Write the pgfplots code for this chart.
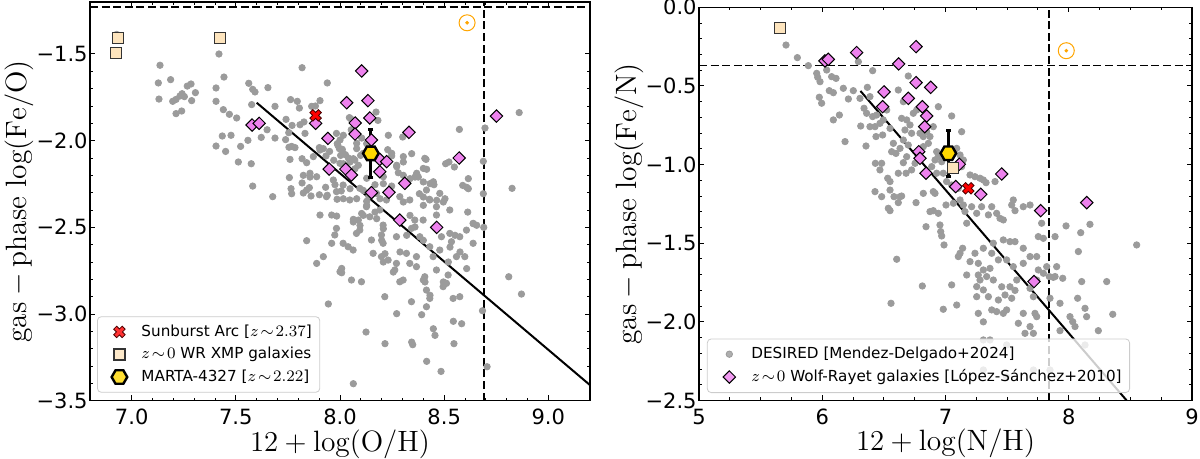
\documentclass[border=0pt]{standalone}
\usepackage{pgfplots}
\pgfplotsset{compat=1.18}
\usepackage{fontspec}
\newfontfamily\dejavu{DejaVu Sans}
\definecolor{ptgray}{RGB}{155,155,155}
\definecolor{wrsq}{RGB}{253,228,189}
\definecolor{violetD}{RGB}{238,130,238}
\definecolor{goldH}{RGB}{255,215,0}
\definecolor{sunor}{RGB}{255,165,0}
\pgfdeclareplotmark{hexH}{%
  \pgfpathmoveto{\pgfqpointpolar{0}{\pgfplotmarksize}}%
  \pgfpathlineto{\pgfqpointpolar{60}{\pgfplotmarksize}}%
  \pgfpathlineto{\pgfqpointpolar{120}{\pgfplotmarksize}}%
  \pgfpathlineto{\pgfqpointpolar{180}{\pgfplotmarksize}}%
  \pgfpathlineto{\pgfqpointpolar{240}{\pgfplotmarksize}}%
  \pgfpathlineto{\pgfqpointpolar{300}{\pgfplotmarksize}}%
  \pgfpathclose\pgfusepathqfillstroke}
\pgfdeclareplotmark{Dmd}{%
  \pgfpathmoveto{\pgfqpoint{0pt}{\pgfplotmarksize}}%
  \pgfpathlineto{\pgfqpoint{\pgfplotmarksize}{0pt}}%
  \pgfpathlineto{\pgfqpoint{0pt}{-\pgfplotmarksize}}%
  \pgfpathlineto{\pgfqpoint{-\pgfplotmarksize}{0pt}}%
  \pgfpathclose\pgfusepathqfillstroke}
\pgfdeclareplotmark{Xfill}{%
  \pgfpathmoveto{\pgfpoint{-0.46*\pgfplotmarksize}{0.955*\pgfplotmarksize}}%
  \pgfpathlineto{\pgfpoint{0pt}{0.495*\pgfplotmarksize}}%
  \pgfpathlineto{\pgfpoint{0.46*\pgfplotmarksize}{0.955*\pgfplotmarksize}}%
  \pgfpathlineto{\pgfpoint{0.955*\pgfplotmarksize}{0.46*\pgfplotmarksize}}%
  \pgfpathlineto{\pgfpoint{0.495*\pgfplotmarksize}{0pt}}%
  \pgfpathlineto{\pgfpoint{0.955*\pgfplotmarksize}{-0.46*\pgfplotmarksize}}%
  \pgfpathlineto{\pgfpoint{0.46*\pgfplotmarksize}{-0.955*\pgfplotmarksize}}%
  \pgfpathlineto{\pgfpoint{0pt}{-0.495*\pgfplotmarksize}}%
  \pgfpathlineto{\pgfpoint{-0.46*\pgfplotmarksize}{-0.955*\pgfplotmarksize}}%
  \pgfpathlineto{\pgfpoint{-0.955*\pgfplotmarksize}{-0.46*\pgfplotmarksize}}%
  \pgfpathlineto{\pgfpoint{-0.495*\pgfplotmarksize}{0pt}}%
  \pgfpathlineto{\pgfpoint{-0.955*\pgfplotmarksize}{0.46*\pgfplotmarksize}}%
  \pgfpathclose\pgfusepathqfillstroke}

\pgfplotstableread{
x y
6.928 -1.387
7.136 -1.565
7.128 -1.667
7.187 -1.648
7.131 -1.760
7.197 -1.773
7.213 -1.762
7.242 -1.729
7.253 -1.746
7.267 -1.685
7.285 -1.673
7.306 -1.723
7.288 -1.769
7.213 -1.844
7.240 -1.829
7.232 -1.742
7.419 -1.500
7.443 -1.633
7.405 -1.696
7.405 -1.773
7.440 -1.821
7.469 -1.848
7.504 -1.869
7.562 -1.669
7.581 -1.704
7.592 -1.719
7.576 -1.792
7.654 -1.694
7.688 -1.802
7.650 -1.937
7.622 -1.981
7.435 -1.973
7.477 -1.969
7.405 -2.031
7.451 -2.062
7.523 -2.033
7.558 -1.998
7.512 -2.123
7.574 -2.133
7.581 -2.262
7.677 -2.323
7.768 -2.306
7.818 -1.579
7.939 -1.667
7.763 -1.763
7.795 -1.773
7.805 -1.812
7.864 -1.802
7.904 -1.769
7.882 -1.800
7.741 -1.877
7.770 -1.912
7.808 -1.908
7.827 -1.892
7.754 -1.954
7.688 -1.985
7.739 -1.994
7.768 -2.033
7.755 -2.038
7.784 -2.040
7.760 -2.108
7.757 -2.213
7.818 -2.104
7.840 -2.127
7.824 -2.200
7.818 -2.244
7.856 -2.210
7.853 -2.271
7.824 -2.302
7.861 -2.319
7.901 -2.312
7.931 -2.269
7.939 -2.315
7.976 -2.254
7.986 -2.338
8.006 -2.290
8.045 -1.867
8.051 -1.873
8.054 -1.937
8.016 -1.969
7.987 -2.017
7.901 -2.040
7.920 -2.046
7.933 -2.088
7.950 -2.062
7.970 -2.113
7.990 -2.027
7.997 -2.046
8.011 -2.050
8.026 -2.081
8.003 -2.085
8.016 -2.133
8.040 -2.100
8.048 -2.123
8.064 -2.104
8.072 -2.162
8.088 -2.142
8.099 -2.085
8.080 -2.046
8.104 -1.985
8.128 -2.017
8.173 -1.835
8.182 -1.883
8.232 -1.969
8.229 -2.052
8.248 -2.088
8.304 -2.123
8.301 -1.979
8.344 -2.075
8.272 -2.142
8.280 -2.185
8.304 -2.200
8.336 -2.219
8.360 -2.210
8.376 -2.210
8.413 -2.108
8.416 -2.165
8.400 -2.238
8.432 -2.248
8.451 -2.254
8.507 -2.133
8.523 -2.123
8.549 -2.152
8.573 -1.935
8.589 -2.258
8.616 -2.219
8.608 -2.269
8.696 -1.927
8.688 -2.119
8.688 -2.306
8.112 -2.287
8.138 -2.321
8.016 -2.335
8.168 -2.254
8.208 -2.248
8.248 -2.262
8.381 -2.306
8.400 -2.325
8.429 -2.338
8.464 -2.344
8.128 -2.350
8.192 -2.335
8.320 -2.248
8.504 -2.335
7.832 -1.958
7.872 -2.092
7.904 -2.054
7.856 -2.188
7.888 -2.208
7.840 -2.285
7.983 -1.958
8.016 -2.073
8.000 -1.996
8.080 -2.015
8.112 -2.073
8.000 -2.131
8.071 -2.112
7.968 -2.227
8.015 -2.256
7.983 -2.294
7.935 -2.323
8.047 -2.342
8.095 -2.275
8.128 -2.217
8.208 -2.208
8.248 -2.073
8.272 -2.150
8.304 -2.092
8.368 -2.188
8.400 -2.160
8.407 -2.102
8.448 -2.237
8.415 -2.285
8.335 -2.342
8.287 -2.323
8.479 -2.304
8.431 -2.342
8.527 -2.400
8.463 -2.381
8.191 -2.400
8.127 -2.381
8.223 -2.342
8.175 -2.304
7.904 -2.429
7.960 -2.429
7.984 -2.435
8.064 -2.454
8.088 -2.458
8.104 -2.420
8.143 -2.439
8.207 -2.487
8.271 -2.554
8.199 -2.544
8.207 -2.592
8.199 -2.669
8.231 -2.689
8.271 -2.708
8.159 -2.650
8.151 -2.573
8.095 -2.516
8.079 -2.535
7.983 -2.506
7.975 -2.544
8.015 -2.592
8.039 -2.612
8.063 -2.631
7.960 -2.592
7.840 -2.577
7.920 -2.669
7.888 -2.708
8.008 -2.737
8.000 -2.756
8.055 -2.804
8.103 -2.814
8.215 -2.900
8.287 -2.814
8.303 -2.804
8.263 -2.746
8.319 -2.650
8.367 -2.669
8.335 -2.708
8.367 -2.727
8.407 -2.785
8.400 -2.804
8.415 -2.862
8.431 -2.910
8.495 -2.842
8.519 -2.775
8.463 -2.746
8.447 -2.669
8.479 -2.631
8.431 -2.612
8.383 -2.554
8.343 -2.506
8.359 -2.458
8.399 -2.458
8.463 -2.429
8.487 -2.554
8.527 -2.535
8.535 -2.583
8.575 -2.554
8.607 -2.516
8.639 -2.477
8.599 -2.669
8.559 -2.669
8.639 -2.592
8.543 -2.910
8.575 -2.900
7.944 -2.942
8.343 -2.929
8.415 -2.958
8.511 -2.823
8.008 -2.762
8.272 -2.998
8.392 -3.004
8.448 -3.085
8.456 -3.123
8.544 -3.042
8.584 -3.056
8.547 -3.171
8.344 -3.162
8.349 -3.177
8.216 -3.171
8.125 -3.104
8.416 -3.273
8.485 -3.331
8.064 -3.402
8.613 -2.412
8.656 -2.488
8.640 -2.479
8.616 -2.277
7.765 -2.277
8.048 -2.277
8.080 -2.335
8.128 -2.373
8.168 -2.412
8.112 -2.431
8.064 -2.469
8.096 -2.489
8.176 -2.450
8.208 -2.508
8.200 -2.575
8.216 -2.652
8.208 -2.700
8.256 -2.758
8.288 -2.642
8.320 -2.546
8.336 -2.431
8.360 -2.498
8.400 -2.575
8.408 -2.815
8.432 -2.892
8.496 -2.815
8.520 -2.700
8.528 -2.614
8.552 -2.546
8.576 -2.642
8.608 -2.738
8.496 -2.354
8.400 -2.373
8.304 -2.354
8.860 -1.838
8.826 -2.275
8.690 -2.500
8.810 -2.785
8.871 -2.885
8.684 -2.981
8.706 -3.304
}\leftgray

\pgfplotstableread{
x y
7.578 -1.910
7.612 -1.900
7.883 -1.900
8.104 -1.598
8.032 -1.781
8.134 -1.769
8.143 -1.869
8.073 -1.898
8.072 -1.962
7.942 -1.987
8.331 -1.952
8.151 -1.996
8.191 -2.108
8.224 -2.121
8.572 -2.100
8.751 -1.858
7.948 -2.164
8.028 -2.164
8.055 -2.198
8.191 -2.179
8.311 -2.246
8.151 -2.300
8.235 -2.298
8.287 -2.458
8.464 -2.500
}\leftdiam

\pgfplotstableread{
x y
5.706 -0.240
5.798 -0.320
5.887 -0.371
5.955 -0.420
5.963 -0.445
5.982 -0.473
6.036 -0.399
6.076 -0.441
6.112 -0.452
6.057 -0.530
6.090 -0.543
6.171 -0.515
5.976 -0.572
5.995 -0.610
6.090 -0.716
6.139 -0.685
6.185 -0.854
6.212 -0.583
6.252 -0.530
6.293 -0.346
6.306 -0.579
6.366 -0.509
6.409 -0.403
6.387 -0.568
6.360 -0.674
6.339 -0.642
6.312 -0.755
6.355 -0.882
6.409 -0.695
6.441 -0.685
6.428 -0.759
6.387 -0.759
6.468 -0.738
6.436 -0.822
6.490 -0.812
6.431 -0.992
6.482 -0.992
6.468 -1.034
6.531 -1.087
6.550 -1.108
6.495 -0.716
6.523 -0.653
6.550 -0.770
6.577 -0.865
6.563 -0.918
6.598 -0.929
6.617 -1.055
6.617 -0.526
6.658 -0.600
6.698 -0.437
6.644 -0.706
6.685 -0.716
6.712 -0.748
6.739 -0.674
6.766 -0.653
6.671 -0.780
6.725 -0.801
6.658 -0.844
6.698 -0.876
6.631 -0.897
6.685 -0.950
6.658 -0.988
6.680 -1.055
6.725 -1.034
6.753 -0.992
6.793 -0.801
6.820 -0.822
6.847 -0.791
6.874 -0.822
6.861 -0.865
6.820 -0.886
6.901 -0.759
6.942 -0.632
6.928 -0.918
6.915 -0.971
6.942 -0.950
6.969 -0.982
6.888 -1.013
6.928 -1.055
6.982 -1.055
7.050 -0.691
7.131 -0.791
7.118 -0.939
7.091 -0.897
7.145 -0.971
7.131 -1.013
7.199 -1.066
7.239 -1.077
7.280 -1.087
7.307 -1.098
7.329 -1.115
7.402 -1.108
7.009 -1.108
7.050 -1.130
7.104 -1.151
6.820 -1.183
6.901 -1.172
6.550 -1.162
6.631 -1.204
7.550 -1.225
6.428 -1.172
6.482 -1.204
6.582 -1.204
6.644 -1.200
6.617 -1.242
6.536 -1.278
6.550 -1.293
6.761 -1.242
6.915 -1.183
6.874 -1.299
6.901 -1.293
6.942 -1.310
6.842 -1.395
6.955 -1.384
6.961 -1.426
6.969 -1.454
6.988 -1.511
7.004 -1.257
7.064 -1.246
7.118 -1.225
7.145 -1.257
7.158 -1.299
7.172 -1.373
7.212 -1.268
7.253 -1.310
7.293 -1.268
7.348 -1.320
7.375 -1.268
7.415 -1.310
7.442 -1.342
7.469 -1.352
7.537 -1.257
7.564 -1.293
7.631 -1.268
7.686 -1.257
7.780 -1.373
7.794 -1.469
7.753 -1.458
7.740 -1.585
7.821 -1.649
7.842 -1.712
7.875 -1.717
7.794 -1.691
7.753 -1.670
7.740 -1.734
7.686 -1.787
7.713 -1.840
7.726 -1.946
7.740 -1.967
7.686 -2.030
7.645 -2.073
7.713 -2.073
7.631 -1.946
7.578 -1.734
7.564 -1.800
7.523 -1.777
7.456 -1.777
7.388 -1.734
7.361 -1.660
7.429 -1.606
7.496 -1.606
7.550 -1.649
7.631 -1.628
7.686 -1.585
7.631 -1.532
7.564 -1.490
7.523 -1.490
7.469 -1.479
7.388 -1.500
7.375 -1.564
7.307 -1.532
7.266 -1.628
7.307 -1.670
7.334 -1.712
7.280 -1.734
7.253 -1.840
7.266 -1.946
7.307 -2.000
7.375 -1.924
7.415 -1.935
7.469 -1.946
7.496 -1.924
7.429 -1.861
7.483 -1.829
7.537 -1.850
7.591 -2.009
7.889 -1.458
7.978 -1.390
8.097 -1.433
8.172 -1.380
8.078 -1.553
8.105 -1.744
8.132 -1.914
8.145 -1.967
8.308 -1.744
8.357 -1.952
8.551 -1.511
7.929 -1.882
8.010 -1.967
8.032 -1.999
8.051 -2.030
7.929 -2.056
8.240 -2.056
8.072 -1.850
8.132 -2.147
7.889 -1.712
7.951 -1.723
7.902 -1.649
7.848 -1.850
7.361 -2.115
7.496 -2.147
6.604 -1.602
6.558 -1.882
6.812 -1.772
6.982 -1.920
7.091 -1.893
7.050 -1.765
7.104 -1.585
7.118 -1.564
7.139 -1.532
7.199 -1.617
7.239 -1.564
7.172 -1.702
7.266 -1.702
7.253 -1.776
7.307 -1.797
7.348 -1.840
7.307 -2.115
7.307 -2.306
7.713 -2.306
7.496 -2.350
7.848 -2.306
}\rightgray

\pgfplotstableread{
x y
6.022 -0.341
6.049 -0.331
6.279 -0.288
6.761 -0.250
6.620 -0.360
6.761 -0.479
6.880 -0.509
6.501 -0.538
6.698 -0.579
6.490 -0.632
6.812 -0.632
6.847 -0.691
6.831 -0.759
6.783 -0.918
6.793 -0.960
7.112 -0.998
6.842 -1.055
7.456 -1.060
7.083 -1.140
7.286 -1.189
7.772 -1.293
8.146 -1.242
7.718 -1.744
}\rightdiam

\pgfplotsset{myax/.style={
  scale only axis,
  axis line style={line width=0.6pt},
  tick style={black, line width=0.5pt},
  major tick length=2.6pt, minor tick length=1.5pt,
  tick align=inside,
  ticklabel style={font=\dejavu\fontsize{10.5}{12}\selectfont},
  yticklabel style={inner xsep=1pt, inner ysep=0pt},
  xticklabel style={inner ysep=0pt, inner xsep=0pt, yshift=-4pt},
  legend cell align=left,
  legend image code/.code={%
    \path (0cm,0cm) (0.62cm,0cm);
    \draw[#1, only marks] plot coordinates {(0.31cm,0cm)};},
  legend style={font=\dejavu\fontsize{7.6}{9}\selectfont, draw=black!20,
    rounded corners=2pt, fill=white, fill opacity=0.8, text opacity=1,
    draw opacity=1, row sep=0pt, inner sep=2pt},
}}

\begin{document}
\begin{tikzpicture}
\path[use as bounding box] (0,0) rectangle (600pt,229.5pt);

% ---------------- left panel ----------------
\begin{axis}[myax,
  at={(45pt,29.15pt)}, anchor=south west,
  width=250pt, height=199.35pt,
  xmin=6.8, xmax=9.2, ymin=-3.5, ymax=-1.2,
  xtick={7,7.5,8,8.5,9}, xticklabels={7.0,7.5,8.0,8.5,9.0},
  ytick={-1.5,-2,-2.5,-3,-3.5}, yticklabels={−1.5,−2.0,−2.5,−3.0,−3.5},
  minor x tick num=4, minor y tick num=4,
  xlabel={$12 + \log(\mathrm{O/H})$},
  ylabel={$\mathrm{gas-phase}\ \mathrm{log(Fe/O)}$},
  every axis x label/.style={at={(axis description cs:0.5,-0.11)},anchor=center,inner sep=1pt,font=\fontsize{14.7}{17}\selectfont},
  every axis y label/.style={at={(axis description cs:-0.142,0.5)},rotate=90,anchor=center,inner sep=0pt,font=\fontsize{14.7}{17}\selectfont},
  legend style={at={(0.014,0.02)}, anchor=south west},
]
\addplot[only marks, mark=*, mark size=1.6pt, color=ptgray, forget plot] table[x=x,y=y] {\leftgray};
\addplot[black, line width=0.8pt, dash pattern=on 4pt off 1.8pt, forget plot] coordinates {(6.8,-1.229) (9.2,-1.229)};
\addplot[black, line width=0.8pt, dash pattern=on 4pt off 1.8pt, forget plot] coordinates {(8.69,-3.5) (8.69,-1.2)};
\addplot[black, line width=1pt, forget plot] coordinates {(7.60,-1.781) (9.2,-3.410)};
\addplot[only marks, mark=Dmd, mark size=3.1pt, mark options={fill=violetD, draw=black, line width=0.5pt}, forget plot] table[x=x,y=y] {\leftdiam};
\addplot[only marks, mark=o, mark size=4pt, mark options={draw=sunor, line width=0.5pt}, forget plot] coordinates {(8.61,-1.32)};
\addplot[only marks, mark=*, mark size=0.7pt, color=sunor, forget plot] coordinates {(8.61,-1.32)};
\addplot[black, line width=1.5pt, mark=-, mark size=1.3pt, forget plot] coordinates {(8.148,-1.933) (8.148,-2.213)};
\addplot[only marks, mark=Xfill, mark size=3pt, mark options={fill=red, draw=black!70!red, line width=0.4pt}] coordinates {(7.883,-1.854)};
\addlegendentry{Sunburst Arc [$z\!\sim\!2.37$]}
\addplot[only marks, mark=square*, mark size=2.75pt, mark options={fill=wrsq, draw=black!80, line width=0.6pt}] coordinates {(6.934,-1.406) (6.923,-1.496) (7.424,-1.406)};
\addlegendentry{$z\!\sim\!0$ WR XMP galaxies}
\addplot[only marks, mark=hexH, mark size=3.9pt, mark options={fill=goldH, draw=black, line width=1.2pt}] coordinates {(8.148,-2.073)};
\addlegendentry{MARTA-4327 [$z\!\sim\!2.22$]}
\end{axis}

% ---------------- right panel ----------------
\begin{axis}[myax,
  at={(349.5pt,29.25pt)}, anchor=south west,
  width=246.5pt, height=196.6pt,
  xmin=5, xmax=9, ymin=-2.5, ymax=0,
  xtick={5,6,7,8,9}, xticklabels={5,6,7,8,9},
  ytick={0,-0.5,-1,-1.5,-2,-2.5}, yticklabels={0.0,−0.5,−1.0,−1.5,−2.0,−2.5},
  minor x tick num=3, minor y tick num=4,
  xlabel={$12 + \log(\mathrm{N/H})$},
  ylabel={$\mathrm{gas-phase}\ \mathrm{log(Fe/N)}$},
  every axis x label/.style={at={(axis description cs:0.5,-0.11)},anchor=center,inner sep=1pt,font=\fontsize{14.7}{17}\selectfont},
  every axis y label/.style={at={(axis description cs:-0.142,0.5)},rotate=90,anchor=center,inner sep=0pt,font=\fontsize{14.7}{17}\selectfont},
  legend style={at={(0.016,0.019)}, anchor=south west},
]
\addplot[only marks, mark=*, mark size=1.6pt, color=ptgray] table[x=x,y=y] {\rightgray};
\addlegendentry{DESIRED [Mendez-Delgado+2024]}
\addplot[black, line width=0.8pt, dash pattern=on 4pt off 1.8pt, forget plot] coordinates {(5,-0.371) (9,-0.371)};
\addplot[black, line width=0.8pt, dash pattern=on 4pt off 1.8pt, forget plot] coordinates {(7.84,-2.5) (7.84,0)};
\addplot[black, line width=1pt, forget plot] coordinates {(6.31,-0.532) (8.47,-2.5)};
\addplot[only marks, mark=Dmd, mark size=3.1pt, mark options={fill=violetD, draw=black, line width=0.5pt}] table[x=x,y=y] {\rightdiam};
\addlegendentry{$z\!\sim\!0$ Wolf-Rayet galaxies [López-Sánchez+2010]}
\addplot[only marks, mark=o, mark size=4pt, mark options={draw=sunor, line width=0.5pt}, forget plot] coordinates {(7.98,-0.276)};
\addplot[only marks, mark=*, mark size=0.7pt, color=sunor, forget plot] coordinates {(7.98,-0.276)};
\addplot[only marks, mark=square*, mark size=2.75pt, mark options={fill=wrsq, draw=black!80, line width=0.6pt}, forget plot] coordinates {(5.657,-0.134) (7.058,-1.024)};
\addplot[black, line width=1.5pt, mark=-, mark size=1.3pt, forget plot] coordinates {(7.023,-0.784) (7.023,-1.077)};
\addplot[only marks, mark=hexH, mark size=3.9pt, mark options={fill=goldH, draw=black, line width=1.2pt}, forget plot] coordinates {(7.023,-0.928)};
\addplot[only marks, mark=Xfill, mark size=3pt, mark options={fill=red, draw=black!70!red, line width=0.4pt}, forget plot] coordinates {(7.185,-1.151)};
\end{axis}
\end{tikzpicture}
\end{document}
